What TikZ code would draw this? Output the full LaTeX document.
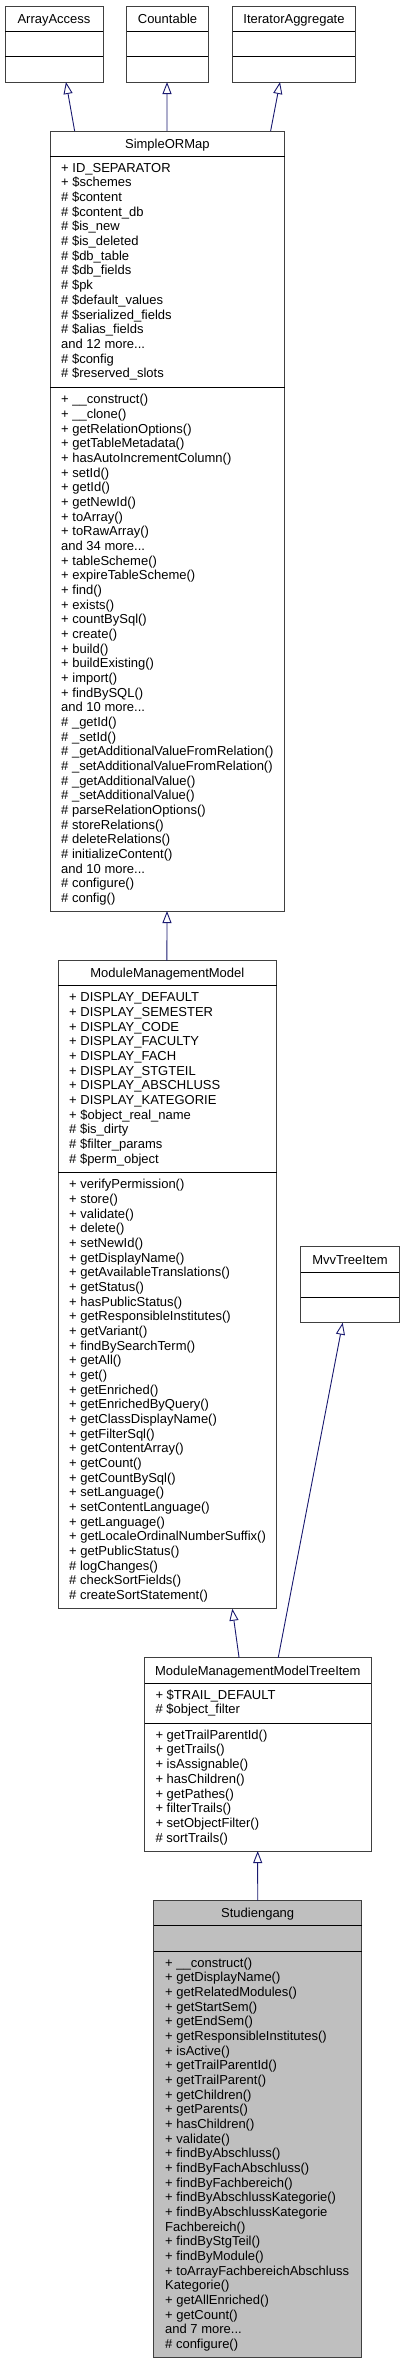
\documentclass[tikz,border=0pt]{standalone}
\usepackage{fontspec}
\setmainfont{Liberation Sans}
\usetikzlibrary{arrows.meta,calc}
\definecolor{boxgray}{HTML}{404040}
\definecolor{edgeblue}{HTML}{191970}
\definecolor{hilite}{HTML}{BFBFBF}
\newcommand\umlfont{\fontsize{13}{14.67}\selectfont}
\tikzset{
  box/.style={draw=boxgray, line width=0.9pt, inner sep=0pt, outer sep=0pt, anchor=north west},
  sepline/.style={draw=black, line width=0.9pt},
  title/.style={anchor=base, inner sep=0pt, font=\umlfont},
  members/.style={anchor=base west, inner sep=0pt, font=\umlfont},
  inh/.style={draw=edgeblue, line width=0.9pt, -{Triangle[open, length=12pt, width=9pt]}}
}
\begin{document}
\begin{tikzpicture}[x=1pt, y=-1pt]
\useasboundingbox (0,0) rectangle (405,2364);
\fill[white] (0,0) rectangle (405,2364);

% ---------- interfaces ----------
\node[box, minimum width=98pt, minimum height=76pt] (aa) at (5,6) {};
\draw[sepline] ([yshift=-25.7pt]aa.north west) -- ([yshift=-25.7pt]aa.north east);
\draw[sepline] ([yshift=-50.7pt]aa.north west) -- ([yshift=-50.7pt]aa.north east);
\node[title] (aat) at ($(aa.north)+(0,17.3)$) {ArrayAccess};

\node[box, minimum width=81.6pt, minimum height=76pt] (ca) at (126.7,6) {};
\draw[sepline] ([yshift=-25.7pt]ca.north west) -- ([yshift=-25.7pt]ca.north east);
\draw[sepline] ([yshift=-50.7pt]ca.north west) -- ([yshift=-50.7pt]ca.north east);
\node[title] (cat) at ($(ca.north)+(0,17.3)$) {Countable};

\node[box, minimum width=122.6pt, minimum height=76pt] (ia) at (232.7,6) {};
\draw[sepline] ([yshift=-25.7pt]ia.north west) -- ([yshift=-25.7pt]ia.north east);
\draw[sepline] ([yshift=-50.7pt]ia.north west) -- ([yshift=-50.7pt]ia.north east);
\node[title] (iat) at ($(ia.north)+(0,17.3)$) {IteratorAggregate};

% ---------- SimpleORMap ----------
\node[box, minimum width=234.7pt, minimum height=780pt] (sm) at (50,131) {};
\draw[sepline] ([yshift=-25.3pt]sm.north west) -- ([yshift=-25.3pt]sm.north east);
\draw[sepline] ([yshift=-256.7pt]sm.north west) -- ([yshift=-256.7pt]sm.north east);
\node[title] (smt) at ($(sm.north)+(0,17.3)$) {SimpleORMap};
\node[members] (sma) at (61,172.3) {\begin{tabular}[t]{@{}l@{}}
+ ID\_SEPARATOR\\
+ \$schemes\\
\# \$content\\
\# \$content\_db\\
\# \$is\_new\\
\# \$is\_deleted\\
\# \$db\_table\\
\# \$db\_fields\\
\# \$pk\\
\# \$default\_values\\
\# \$serialized\_fields\\
\# \$alias\_fields\\
and 12 more...\\
\# \$config\\
\# \$reserved\_slots
\end{tabular}};
\node[members] (smm) at (61,403.7) {\begin{tabular}[t]{@{}l@{}}
+ \_\_construct()\\
+ \_\_clone()\\
+ getRelationOptions()\\
+ getTableMetadata()\\
+ hasAutoIncrementColumn()\\
+ setId()\\
+ getId()\\
+ getNewId()\\
+ toArray()\\
+ toRawArray()\\
and 34 more...\\
+ tableScheme()\\
+ expireTableScheme()\\
+ find()\\
+ exists()\\
+ countBySql()\\
+ create()\\
+ build()\\
+ buildExisting()\\
+ import()\\
+ findBySQL()\\
and 10 more...\\
\# \_getId()\\
\# \_setId()\\
\# \_getAdditionalValueFromRelation()\\
\# \_setAdditionalValueFromRelation()\\
\# \_getAdditionalValue()\\
\# \_setAdditionalValue()\\
\# parseRelationOptions()\\
\# storeRelations()\\
\# deleteRelations()\\
\# initializeContent()\\
and 10 more...\\
\# configure()\\
\# config()
\end{tabular}};

% ---------- ModuleManagementModel ----------
\node[box, minimum width=218.7pt, minimum height=648pt] (mmm) at (58,960.7) {};
\draw[sepline] ([yshift=-25pt]mmm.north west) -- ([yshift=-25pt]mmm.north east);
\draw[sepline] ([yshift=-212pt]mmm.north west) -- ([yshift=-212pt]mmm.north east);
\node[title] (mmmt) at ($(mmm.north)+(0,17.2)$) {ModuleManagementModel};
\node[members] (mmma) at (69,1001.7) {\begin{tabular}[t]{@{}l@{}}
+ DISPLAY\_DEFAULT\\
+ DISPLAY\_SEMESTER\\
+ DISPLAY\_CODE\\
+ DISPLAY\_FACULTY\\
+ DISPLAY\_FACH\\
+ DISPLAY\_STGTEIL\\
+ DISPLAY\_ABSCHLUSS\\
+ DISPLAY\_KATEGORIE\\
+ \$object\_real\_name\\
\# \$is\_dirty\\
\# \$filter\_params\\
\# \$perm\_object
\end{tabular}};
\node[members] (mmmm) at (69,1188.7) {\begin{tabular}[t]{@{}l@{}}
+ verifyPermission()\\
+ store()\\
+ validate()\\
+ delete()\\
+ setNewId()\\
+ getDisplayName()\\
+ getAvailableTranslations()\\
+ getStatus()\\
+ hasPublicStatus()\\
+ getResponsibleInstitutes()\\
+ getVariant()\\
+ findBySearchTerm()\\
+ getAll()\\
+ get()\\
+ getEnriched()\\
+ getEnrichedByQuery()\\
+ getClassDisplayName()\\
+ getFilterSql()\\
+ getContentArray()\\
+ getCount()\\
+ getCountBySql()\\
+ setLanguage()\\
+ setContentLanguage()\\
+ getLanguage()\\
+ getLocaleOrdinalNumberSuffix()\\
+ getPublicStatus()\\
\# logChanges()\\
\# checkSortFields()\\
\# createSortStatement()
\end{tabular}};

% ---------- MvvTreeItem ----------
\node[box, minimum width=98.6pt, minimum height=76pt] (mvv) at (300.7,1246.7) {};
\draw[sepline] ([yshift=-25.3pt]mvv.north west) -- ([yshift=-25.3pt]mvv.north east);
\draw[sepline] ([yshift=-50.6pt]mvv.north west) -- ([yshift=-50.6pt]mvv.north east);
\node[title] (mvvt) at ($(mvv.north)+(0,17.3)$) {MvvTreeItem};

% ---------- ModuleManagementModelTreeItem ----------
\node[box, minimum width=226.3pt, minimum height=193.3pt] (tree) at (144.7,1657.7) {};
\draw[sepline] ([yshift=-25.3pt]tree.north west) -- ([yshift=-25.3pt]tree.north east);
\draw[sepline] ([yshift=-65.6pt]tree.north west) -- ([yshift=-65.6pt]tree.north east);
\node[title] (treet) at ($(tree.north)+(0,17.3)$) {ModuleManagementModelTreeItem};
\node[members] (treea) at (155.3,1699) {\begin{tabular}[t]{@{}l@{}}
+ \$TRAIL\_DEFAULT\\
\# \$object\_filter
\end{tabular}};
\node[members] (treem) at (155.3,1739.3) {\begin{tabular}[t]{@{}l@{}}
+ getTrailParentId()\\
+ getTrails()\\
+ isAssignable()\\
+ hasChildren()\\
+ getPathes()\\
+ filterTrails()\\
+ setObjectFilter()\\
\# sortTrails()
\end{tabular}};

% ---------- Studiengang ----------
\node[box, fill=hilite, minimum width=208pt, minimum height=456.6pt] (stg) at (153.7,1900.7) {};
\draw[sepline] ([yshift=-25pt]stg.north west) -- ([yshift=-25pt]stg.north east);
\draw[sepline] ([yshift=-50.3pt]stg.north west) -- ([yshift=-50.3pt]stg.north east);
\node[title] (stgt) at ($(stg.north)+(0,17.2)$) {Studiengang};
\node[members] (stgm) at (165,1967) {\begin{tabular}[t]{@{}l@{}}
+ \_\_construct()\\
+ getDisplayName()\\
+ getRelatedModules()\\
+ getStartSem()\\
+ getEndSem()\\
+ getResponsibleInstitutes()\\
+ isActive()\\
+ getTrailParentId()\\
+ getTrailParent()\\
+ getChildren()\\
+ getParents()\\
+ hasChildren()\\
+ validate()\\
+ findByAbschluss()\\
+ findByFachAbschluss()\\
+ findByFachbereich()\\
+ findByAbschlussKategorie()\\
+ findByAbschlussKategorie\\
Fachbereich()\\
+ findByStgTeil()\\
+ findByModule()\\
+ toArrayFachbereichAbschluss\\
Kategorie()\\
+ getAllEnriched()\\
+ getCount()\\
and 7 more...\\
\# configure()
\end{tabular}};

% ---------- inheritance edges ----------
\draw[inh] ($(sm.north west)!0.105!(sm.north east)$) -- ($(aa.south west)!0.622!(aa.south east)$);
\draw[inh] ($(sm.north west)!0.4985!(sm.north east)$) -- ($(ca.south west)!0.494!(ca.south east)$);
\draw[inh] ($(sm.north west)!0.94!(sm.north east)$) -- ($(ia.south west)!0.386!(ia.south east)$);
\draw[inh] ($(mmm.north west)!0.498!(mmm.north east)$) -- ($(sm.south west)!0.4985!(sm.south east)$);
\draw[inh] ($(tree.north west)!0.417!(tree.north east)$) -- ($(mmm.south west)!0.797!(mmm.south east)$);
\draw[inh] ($(tree.north west)!0.59!(tree.north east)$) -- ($(mvv.south west)!0.426!(mvv.south east)$);
\draw[inh] ($(stg.north west)!0.5!(stg.north east)$) -- ($(tree.south west)!0.4993!(tree.south east)$);
\end{tikzpicture}
\end{document}
